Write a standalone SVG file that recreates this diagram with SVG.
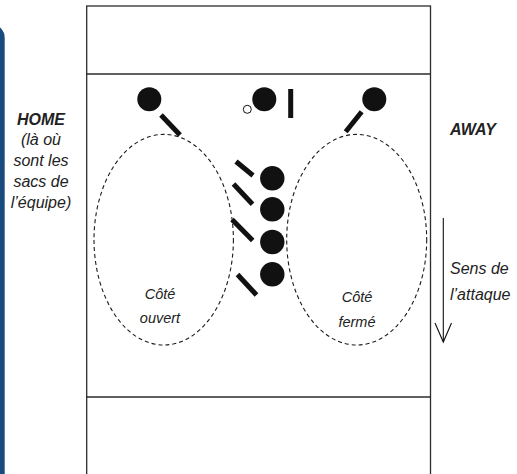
<svg xmlns="http://www.w3.org/2000/svg" width="517" height="474" viewBox="0 0 517 474">
  <style>
    .field { fill: none; stroke: #2b2b2b; stroke-width: 1.3; }
    .zone { fill: none; stroke: #1a1a1a; stroke-width: 1.1; stroke-dasharray: 4 3; }
    .player { fill: #111; }
    .bat { stroke: #111; stroke-width: 5; stroke-linecap: butt; }
    .lbl { font-family: "Liberation Sans", Arial, sans-serif; font-style: italic; fill: #222; }
    .side { font-size: 16px; text-anchor: middle; }
    .zonelbl { font-size: 14.5px; text-anchor: middle; }
    .bold { font-weight: bold; }
  </style>

  <rect width="517" height="474" fill="#ffffff"/>

  <!-- edge band -->
  <rect x="-30" y="24" width="34.7" height="480" rx="14" fill="#184a7d"/>

  <!-- field outline and end lines -->
  <g id="field">
    <rect class="field" x="86.7" y="6" width="343.8" height="480"/>
    <line class="field" x1="86.7" y1="74" x2="430.5" y2="74"/>
    <line class="field" x1="86.7" y1="397" x2="430.5" y2="397"/>
  </g>

  <!-- dashed zones -->
  <g id="zone-open">
    <ellipse class="zone" cx="163.7" cy="239.7" rx="69.7" ry="105.3"/>
    <text class="lbl zonelbl" x="160" y="299">Côté</text>
    <text class="lbl zonelbl" x="160" y="323">ouvert</text>
  </g>
  <g id="zone-closed">
    <ellipse class="zone" cx="356.7" cy="239.7" rx="70" ry="105.3"/>
    <text class="lbl zonelbl" x="357" y="302">Côté</text>
    <text class="lbl zonelbl" x="357" y="327">fermé</text>
  </g>

  <!-- players -->
  <g id="player-left">
    <circle class="player" cx="149.3" cy="99.3" r="12"/>
    <line class="bat" x1="161" y1="115" x2="180" y2="135"/>
  </g>
  <g id="player-top">
    <circle class="player" cx="264.3" cy="99.3" r="12"/>
    <circle cx="247.3" cy="109.3" r="4" fill="#fff" stroke="#111" stroke-width="1"/>
    <line class="bat" x1="290.7" y1="89" x2="290.7" y2="118"/>
  </g>
  <g id="player-right">
    <circle class="player" cx="374.3" cy="99.3" r="12"/>
    <line class="bat" x1="361.7" y1="111.7" x2="345.7" y2="131.7"/>
  </g>
  <g id="player-1">
    <circle class="player" cx="272.3" cy="178.3" r="12.2"/>
    <line class="bat" x1="236" y1="161.5" x2="253" y2="175.5"/>
  </g>
  <g id="player-2">
    <circle class="player" cx="272.3" cy="209.3" r="12.2"/>
    <line class="bat" x1="233.5" y1="184" x2="252.5" y2="204.3"/>
  </g>
  <g id="player-3">
    <circle class="player" cx="272.3" cy="242" r="12.2"/>
    <line class="bat" x1="232" y1="219.5" x2="252.7" y2="240.5"/>
  </g>
  <g id="player-4">
    <circle class="player" cx="272.3" cy="274.3" r="12.2"/>
    <line class="bat" x1="237.5" y1="274.5" x2="256.5" y2="295"/>
  </g>

  <!-- side labels -->
  <g id="home">
    <text class="lbl side bold" x="41" y="125">HOME</text>
    <text class="lbl side" x="41" y="145">(là où</text>
    <text class="lbl side" x="41" y="166">sont les</text>
    <text class="lbl side" x="41" y="187">sacs de</text>
    <text class="lbl side" x="41" y="208">l’équipe)</text>
  </g>
  <g id="away">
    <text class="lbl side bold" x="473" y="135">AWAY</text>
  </g>

  <!-- attack direction -->
  <g id="connectors">
    <line x1="443.3" y1="218" x2="443.3" y2="342" stroke="#111" stroke-width="1.1"/>
    <polyline points="435,323 443.3,342 451.5,323" fill="none" stroke="#111" stroke-width="1.1"/>
  </g>
  <g id="attack-label">
    <text class="lbl" x="450" y="274" font-size="16">Sens de</text>
    <text class="lbl" x="450" y="300" font-size="16">l’attaque</text>
  </g>
</svg>
